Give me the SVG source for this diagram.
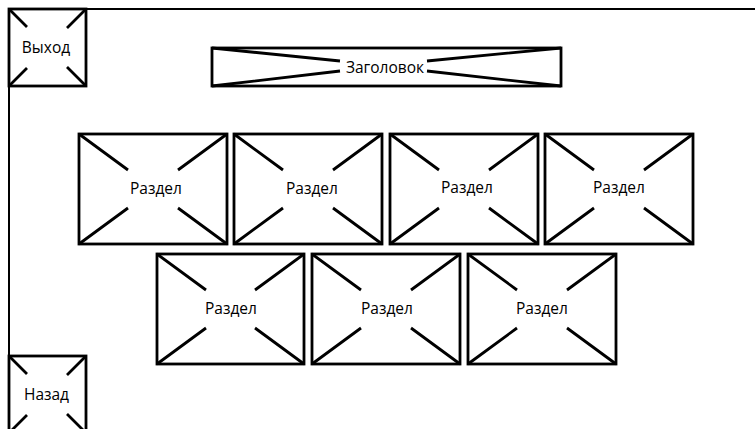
<svg xmlns="http://www.w3.org/2000/svg" width="755" height="429" viewBox="0 0 755 429">
<style>
.b{fill:#fff;stroke:#000;stroke-width:2.8}
.d{stroke:#000;stroke-width:2.8;fill:none}
.f{stroke:#000;stroke-width:2;fill:none}
text{font-family:"Open Sans","Noto Sans","Liberation Sans",sans-serif;font-size:15.5px;fill:#000;text-anchor:middle}
</style>
<rect width="755" height="429" fill="#fff"/>
<g id="frame"><path class="f" d="M9,429 V9 H755"/></g>
<g id="exit">
<rect class="b" x="9" y="9" width="77" height="77"/>
<path class="d" d="M9,9 L27,27 M86,9 L67,28 M9,86 L27,68 M86,86 L67,67"/>
<text x="46" y="53">Выход</text>
</g>
<g id="back">
<rect class="b" x="9" y="356" width="77" height="77"/>
<path class="d" d="M9,356 L27,374 M86,356 L67,375 M9,433 L27,415 M86,433 L67,414"/>
<text x="46.5" y="400">Назад</text>
</g>
<g id="title">
<rect class="b" x="212" y="48" width="349" height="38"/>
<path class="d" d="M212,48 L340,61 M212,86 L340,71 M561,48 L427,61 M561,86 L427,71"/>
<text x="385" y="72.5">Заголовок</text>
</g>
<g id="s1"><rect class="b" x="79" y="134" width="148" height="110"/><path class="d" d="M79,134 L128,170 M227,134 L178,170 M79,244 L128,208 M227,244 L178,208"/><text x="156" y="194">Раздел</text></g>
<g id="s2"><rect class="b" x="234" y="134" width="148" height="110"/><path class="d" d="M234,134 L283,170 M382,134 L333,170 M234,244 L283,208 M382,244 L333,208"/><text x="312" y="194">Раздел</text></g>
<g id="s3"><rect class="b" x="390" y="134" width="148" height="110"/><path class="d" d="M390,134 L439,170 M538,134 L489,170 M390,244 L439,208 M538,244 L489,208"/><text x="467" y="193">Раздел</text></g>
<g id="s4"><rect class="b" x="545" y="134" width="148" height="110"/><path class="d" d="M545,134 L594,170 M693,134 L644,170 M545,244 L594,208 M693,244 L644,208"/><text x="619" y="193">Раздел</text></g>
<g id="s5"><rect class="b" x="157" y="254" width="147" height="110"/><path class="d" d="M157,254 L206,290 M304,254 L255,290 M157,364 L206,328 M304,364 L255,328"/><text x="231" y="314">Раздел</text></g>
<g id="s6"><rect class="b" x="312" y="254" width="148" height="110"/><path class="d" d="M312,254 L361,290 M460,254 L411,290 M312,364 L361,328 M460,364 L411,328"/><text x="387" y="314">Раздел</text></g>
<g id="s7"><rect class="b" x="468" y="254" width="148" height="110"/><path class="d" d="M468,254 L517,290 M616,254 L567,290 M468,364 L517,328 M616,364 L567,328"/><text x="542" y="314">Раздел</text></g>
</svg>
